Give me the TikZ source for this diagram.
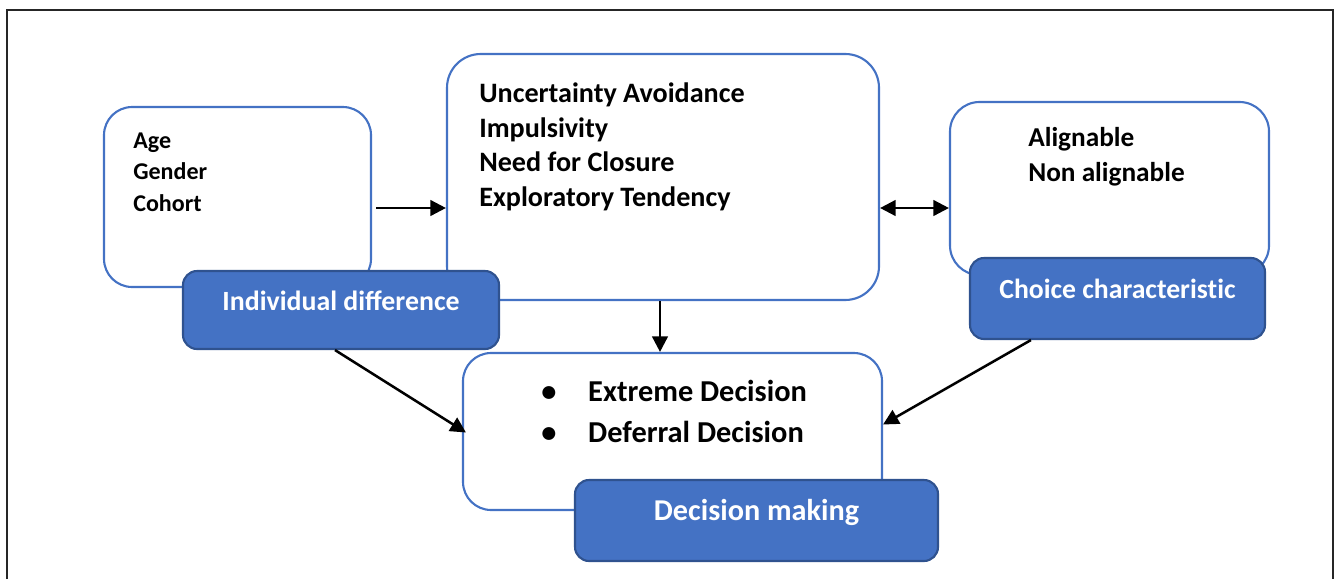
\documentclass[tikz,border=0pt]{standalone}
\usepackage{fontspec}
\setmainfont{Carlito}
\usetikzlibrary{arrows.meta,calc}
\definecolor{boxblue}{HTML}{4472C4}
\definecolor{edgeblue}{HTML}{2F528F}
\newcommand{\pxu}{0.025cm}
\tikzset{
  factor/.style={draw=boxblue,line width=1.5pt,fill=white,inner sep=0pt},
  tag/.style={draw=edgeblue,fill=boxblue,line width=1.5pt,rounded corners=10pt,
    text=white,inner sep=0pt,text height=12pt,text depth=12pt},
  items/.style={align=left,inner sep=0pt,anchor=base west},
  arr/.style={-{Triangle[length=11pt,width=11pt]},line width=1.8pt},
  biarr/.style={{Triangle[length=11pt,width=11pt]}-{Triangle[length=11pt,width=11pt]},line width=1.8pt}
}
\begin{document}
\begin{tikzpicture}[x=\pxu,y=-\pxu]
    \useasboundingbox (0,0) rectangle (1335,579);
    % outer frame
    \draw[line width=1.4pt,black!85] (7,579) -- (7,10) -- (1333,10) -- (1333,579);
    % factor boxes
    \node[factor,rounded corners=20pt,minimum width=267*\pxu,minimum height=180*\pxu] (demo) at (237.5,197) {};
    \node[factor,rounded corners=24pt,minimum width=432*\pxu,minimum height=246*\pxu] (traits) at (663,177) {};
    \node[factor,rounded corners=21pt,minimum width=319*\pxu,minimum height=173*\pxu] (choice) at (1109.5,188.5) {};
    \node[factor,rounded corners=20pt,minimum width=419*\pxu,minimum height=157*\pxu] (decision) at (672.5,431.5) {};
    % box contents (placed at the baseline of the last line)
    \node[items,font=\bfseries\fontsize{17.1}{22.4}\selectfont] (demotext) at (133,211) {Age\\Gender\\Cohort};
    \node[items,font=\bfseries\fontsize{20}{24.5}\selectfont] (traitstext) at (479,206)
      {Uncertainty Avoidance\\Impulsivity\\Need for Closure\\Exploratory Tendency};
    \node[items,font=\bfseries\fontsize{19.4}{24.7}\selectfont] (choicetext) at (1028,181) {Alignable\\Non alignable};
    \node[items,font=\bfseries\fontsize{21.6}{29}\selectfont] (dectext) at (541,442)
      {\makebox[33.4pt][l]{\textbullet}Extreme Decision\\\makebox[33.4pt][l]{\textbullet}Deferral Decision};
    % tags
    \node[tag,font=\bfseries\fontsize{19.8}{23}\selectfont,minimum width=316*\pxu,minimum height=78*\pxu] (indiv) at (341,310) {Individual difference};
    \node[tag,font=\bfseries\fontsize{19.7}{23}\selectfont,minimum width=295*\pxu,minimum height=81*\pxu] (choicetag) at (1117.5,298.5) {Choice characterist\kern0pt ic};
    \node[tag,font=\bfseries\fontsize{21.5}{24}\selectfont,minimum width=363*\pxu,minimum height=81*\pxu] (dectag) at (756.5,520.5) {Decision making};
    % connectors
    \draw[arr] ($(demo.east)+(4,11)$) coordinate (a) -- (a -| traits.west);
    \draw[biarr] (traits.east |- a) -- (choice.west |- a);
    \draw[arr] ($(traits.south)+(-3,0)$) coordinate (b) -- (b |- decision.north);
    \draw[arr] ($(indiv.south)+(-6,0)$) -- ($(decision.west)+(4,1)$);
    \draw[arr] ($(choicetag.south west)+(62,0)$) -- ($(decision.east)+(0,-7)$);
\end{tikzpicture}
\end{document}
